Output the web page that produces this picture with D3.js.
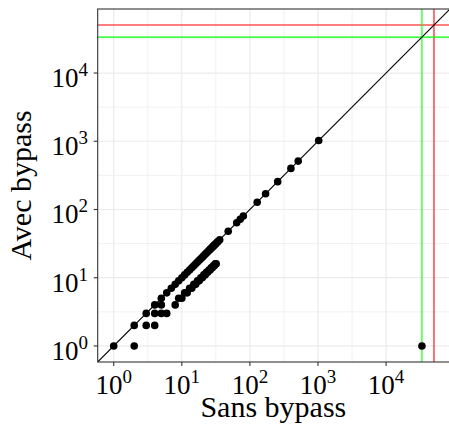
<!DOCTYPE html>
<html>
<head>
<meta charset="utf-8">
<script src="https://cdn.jsdelivr.net/npm/d3@7"></script>
<style>
  body { margin: 0; background: #fff; }
  text { font-family: "Liberation Serif", "DejaVu Serif", serif; fill: #000; }
</style>
</head>
<body>
<div id="graph"></div>
<script>
// runs: time without bypass (x) vs with bypass (y)
var sansBypass = [1, 2, 2, 3, 3, 4, 4, 4, 5, 5, 5, 6, 6, 7, 8, 8, 9, 9, 10, 10, 11, 11, 12, 12,
    13, 13, 14, 14, 15, 15, 16, 16, 17, 17, 18, 18, 19, 19, 20, 20, 21, 21, 22, 22, 23, 23,
    24, 24, 25, 25, 26, 26, 27, 27, 28, 28, 29, 29, 30, 30, 31, 31, 32, 32, 33, 34, 36,
    48, 64, 72, 80, 128, 170, 256, 400, 512, 1024, 33600];
var avecBypass = [1, 2, 1, 3, 2, 4, 2, 3, 5, 3, 4, 6, 3, 7, 8, 4, 9, 5, 10, 5, 11, 6, 12, 6,
    13, 7, 14, 7, 15, 8, 16, 8, 17, 9, 18, 9, 19, 10, 20, 10, 21, 11, 22, 11, 23, 12,
    24, 12, 25, 13, 26, 13, 27, 14, 28, 14, 29, 15, 30, 15, 31, 16, 32, 16, 33, 34, 36,
    48, 64, 72, 80, 128, 170, 256, 400, 512, 1024, 1];
var limitGreen = 33600;
var limitRed = 50500;
var tickExps = [0, 1, 2, 3, 4];
var minorExps = [0.5, 1.5, 2.5, 3.5, 4.5];

var W = 449, H = 432;
var pL = 97.7, pR = 450, pT = 9, pB = 362;

var svg = d3.select("#graph")
            .append("svg")
            .attr("width", W)
            .attr("height", H);

// log domain with 5% expansion like ggplot
var lo = Math.log10(1), hi = Math.log10(limitRed);
var pad = (hi - lo) * 0.05;
var dom = [Math.pow(10, lo - pad), Math.pow(10, hi + pad)];

var x = d3.scaleLog().domain(dom).range([pL, pR]);
var y = d3.scaleLog().domain(dom).range([pB, pT]);

var panel = svg.append("g");
panel.append("clipPath").attr("id", "clip")
    .append("rect")
    .attr("x", pL).attr("y", pT)
    .attr("width", pR - pL).attr("height", pB - pT);

var inner = panel.append("g").attr("clip-path", "url(#clip)");

// grid
minorExps.forEach(function(e) {
    var v = Math.pow(10, e);
    inner.append("line").attr("x1", x(v)).attr("x2", x(v)).attr("y1", pT).attr("y2", pB)
        .attr("stroke", "#ebebeb").attr("stroke-width", 0.7);
    inner.append("line").attr("y1", y(v)).attr("y2", y(v)).attr("x1", pL).attr("x2", pR)
        .attr("stroke", "#ebebeb").attr("stroke-width", 0.7);
});
tickExps.forEach(function(e) {
    var v = Math.pow(10, e);
    inner.append("line").attr("x1", x(v)).attr("x2", x(v)).attr("y1", pT).attr("y2", pB)
        .attr("stroke", "#ebebeb").attr("stroke-width", 1.2);
    inner.append("line").attr("y1", y(v)).attr("y2", y(v)).attr("x1", pL).attr("x2", pR)
        .attr("stroke", "#ebebeb").attr("stroke-width", 1.2);
});

// limits
[[limitRed, "#ff0000"], [limitGreen, "#00ff00"]].forEach(function(l) {
    inner.append("line").attr("x1", pL).attr("x2", pR)
        .attr("y1", y(l[0])).attr("y2", y(l[0]))
        .attr("stroke", l[1]).attr("stroke-width", 1.1);
    inner.append("line").attr("y1", pT).attr("y2", pB)
        .attr("x1", x(l[0])).attr("x2", x(l[0]))
        .attr("stroke", l[1]).attr("stroke-width", 1.1);
});

// y = x
inner.append("line")
    .attr("x1", x(dom[0])).attr("y1", y(dom[0]))
    .attr("x2", x(dom[1])).attr("y2", y(dom[1]))
    .attr("stroke", "#000").attr("stroke-width", 1.1);

var pts = sansBypass.map(function(d, i) { return [d, avecBypass[i]]; });
inner.selectAll("circle")
    .data(pts)
    .enter()
        .append("circle")
        .attr("cx", function(d) { return x(d[0]); })
        .attr("cy", function(d) { return y(d[1]); })
        .attr("r", 3.8)
        .attr("fill", "#000");

// border (right edge falls outside the page)
panel.append("rect")
    .attr("x", pL).attr("y", pT)
    .attr("width", pR - pL).attr("height", pB - pT)
    .attr("fill", "none").attr("stroke", "#333").attr("stroke-width", 1.1);

// ticks + labels
function powLabel(sel, e) {
    sel.append("tspan").text("10");
    sel.append("tspan").attr("dy", -11).attr("font-size", 19).text(e);
}

tickExps.forEach(function(e) {
    var v = Math.pow(10, e);
    svg.append("line").attr("x1", x(v)).attr("x2", x(v)).attr("y1", pB).attr("y2", pB + 4)
        .attr("stroke", "#333").attr("stroke-width", 1.1);
    svg.append("text").attr("x", x(v)).attr("y", 394)
        .attr("text-anchor", "middle").attr("font-size", 27)
        .call(powLabel, e);

    svg.append("line").attr("x1", pL - 4).attr("x2", pL).attr("y1", y(v)).attr("y2", y(v))
        .attr("stroke", "#333").attr("stroke-width", 1.1);
    svg.append("text").attr("x", 88).attr("y", y(v) + 14)
        .attr("text-anchor", "end").attr("font-size", 27)
        .call(powLabel, e);
});

svg.append("text")
    .attr("x", (pL + 449) / 2).attr("y", 417)
    .attr("text-anchor", "middle").attr("font-size", 30)
    .text("Sans bypass");

svg.append("text")
    .attr("transform", "translate(31," + ((pT + pB) / 2) + ") rotate(-90)")
    .attr("text-anchor", "middle").attr("font-size", 30)
    .text("Avec bypass");
</script>
</body>
</html>
